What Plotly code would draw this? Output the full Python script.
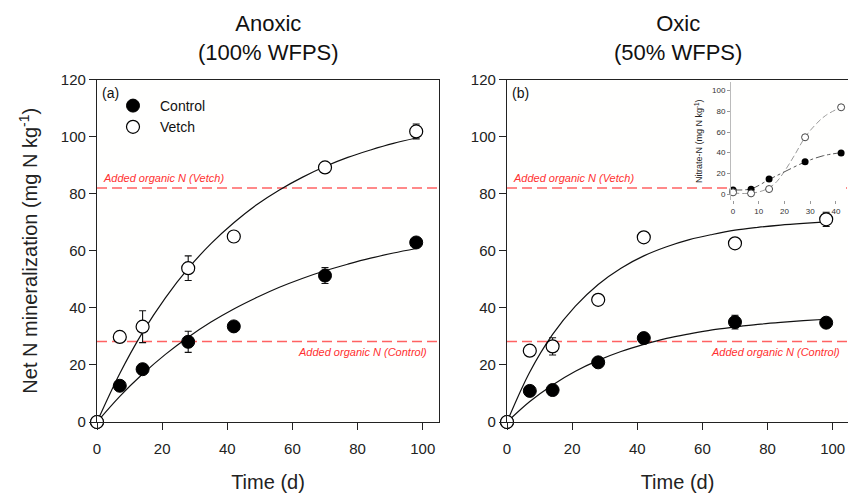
import plotly.graph_objects as go

# ---------------- data ----------------
days = [0, 7, 14, 28, 42, 70, 98]

# (a) Anoxic
anox_control = [0, 12.7, 18.5, 28.1, 33.5, 51.3, 62.9]
anox_control_err = [0, 1.0, 1.2, 3.7, 1.2, 2.8, 1.5]
anox_vetch = [0, 29.8, 33.4, 53.9, 65.0, 89.2, 101.8]
anox_vetch_err = [0, 1.0, 5.6, 4.3, 1.0, 1.2, 2.6]

# (b) Oxic
oxic_control = [0, 10.9, 11.2, 20.9, 29.4, 35.0, 34.8]
oxic_control_err = [0, 1.0, 1.0, 1.2, 1.2, 2.4, 1.5]
oxic_vetch = [0, 25.0, 26.5, 42.8, 64.7, 62.6, 71.0]
oxic_vetch_err = [0, 1.0, 3.0, 1.0, 1.0, 1.2, 2.5]

# fitted curves
curve_t = [0, 7, 14, 21, 28, 35, 42, 49, 56, 63, 70, 77, 84, 91, 98]
anox_control_fit = [0, 9.0, 16.8, 23.7, 29.7, 35.0, 39.6, 43.6, 47.2, 50.3, 53.0, 55.3, 57.4, 59.2, 60.8]
anox_vetch_fit = [0, 17.0, 31.4, 43.5, 53.8, 62.5, 69.8, 76.1, 81.3, 85.7, 89.5, 92.7, 95.3, 97.6, 99.5]
oxic_control_fit = [0, 7.2, 13.0, 17.8, 21.6, 24.7, 27.2, 29.3, 30.9, 32.3, 33.3, 34.2, 34.9, 35.5, 36.0]
oxic_vetch_fit = [0, 17.5, 30.7, 40.6, 48.2, 53.9, 58.2, 61.4, 63.9, 65.7, 67.2, 68.2, 69.0, 69.6, 70.1]

# added organic N reference levels
added_n_control = 28.2
added_n_vetch = 82.0

# inset: nitrate-N (oxic)
inset_days = [0, 7, 14, 28, 42]
nitrate_control = [3.9, 4.5, 14.5, 31.3, 39.7]
nitrate_vetch = [1.6, 0.6, 4.8, 54.9, 83.9]
inset_curve_t_control = [0, 7, 14, 20, 28, 35, 42]
nitrate_control_fit = [4.0, 5.0, 14.0, 21.5, 31.0, 37.0, 40.0]
inset_curve_t_vetch = [0, 5, 10, 14, 17, 20, 24, 28, 32, 36, 42]
nitrate_vetch_fit = [1.0, 0.5, 2.0, 6.0, 12.0, 22.0, 38.0, 55.0, 67.0, 76.0, 84.0]

x_ticks = [0, 20, 40, 60, 80, 100]
y_ticks = [0, 20, 40, 60, 80, 100, 120]
inset_x_ticks = [0, 10, 20, 30, 40]
inset_y_ticks = [0, 20, 40, 60, 80, 100]

# ---------------- figure ----------------
W, H = 848, 493
FONT = "Liberation Sans, Arial, sans-serif"
RED = "rgba(255,70,70,0.85)"

fig = go.Figure()

XR = [0, 105]
panels = [
    ("x", "y", anox_control, anox_control_err, anox_vetch, anox_vetch_err,
     anox_control_fit, anox_vetch_fit, True),
    ("x2", "y2", oxic_control, oxic_control_err, oxic_vetch, oxic_vetch_err,
     oxic_control_fit, oxic_vetch_fit, False),
]

for xa, ya, c, ce, v, ve, cf, vf, show in panels:
    for lvl in (added_n_vetch, added_n_control):
        fig.add_trace(go.Scatter(x=XR, y=[lvl, lvl], xaxis=xa, yaxis=ya, mode="lines",
                                 line=dict(color=RED, width=1.5, dash="10px,5px"),
                                 showlegend=False, hoverinfo="skip"))
    for fit in (cf, vf):
        fig.add_trace(go.Scatter(x=curve_t, y=fit, xaxis=xa, yaxis=ya, mode="lines",
                                 line=dict(color="#111", width=1.2, shape="spline"),
                                 showlegend=False, hoverinfo="skip"))
    fig.add_trace(go.Scatter(x=days, y=c, xaxis=xa, yaxis=ya, mode="markers", name="Control",
                             marker=dict(size=13, color="black", line=dict(color="black", width=1)),
                             error_y=dict(type="data", array=ce, color="#111", thickness=1.1, width=3.5),
                             cliponaxis=False, showlegend=show))
    fig.add_trace(go.Scatter(x=days, y=v, xaxis=xa, yaxis=ya, mode="markers", name="Vetch",
                             marker=dict(size=13, color="white", line=dict(color="black", width=1.2)),
                             error_y=dict(type="data", array=ve, color="#111", thickness=1.1, width=3.5),
                             cliponaxis=False, showlegend=show))

# inset
fig.add_trace(go.Scatter(x=inset_curve_t_vetch, y=nitrate_vetch_fit, xaxis="x3", yaxis="y3",
                         mode="lines", line=dict(color="#9a9a9a", width=1, dash="6px,3px", shape="spline"),
                         showlegend=False, hoverinfo="skip"))
fig.add_trace(go.Scatter(x=inset_curve_t_control, y=nitrate_control_fit, xaxis="x3", yaxis="y3",
                         mode="lines", line=dict(color="#555", width=1, dash="dashdot", shape="spline"),
                         showlegend=False, hoverinfo="skip"))
fig.add_trace(go.Scatter(x=inset_days, y=nitrate_control, xaxis="x3", yaxis="y3", mode="markers",
                         marker=dict(size=7, color="black"), cliponaxis=False, showlegend=False))
fig.add_trace(go.Scatter(x=inset_days, y=nitrate_vetch, xaxis="x3", yaxis="y3", mode="markers",
                         marker=dict(size=7, color="white", line=dict(color="#444", width=1)),
                         cliponaxis=False, showlegend=False))

ax_common = dict(showline=True, linecolor="#222", linewidth=1.3, mirror=True,
                 ticks="outside", ticklen=7, tickwidth=1.2, tickcolor="#222",
                 showgrid=False, zeroline=False, automargin=False,
                 tickfont=dict(family=FONT, size=15, color="#222"))

yb, yt = (H - 422) / H, (H - 79.5) / H

fig.update_layout(
    width=W, height=H,
    margin=dict(l=0, r=0, t=0, b=0, autoexpand=False),
    paper_bgcolor="white", plot_bgcolor="rgb(255,255,254)",
    font=dict(family=FONT, color="#222"),
    xaxis=dict(domain=[97 / W, 439 / W], range=XR, tickvals=x_ticks, anchor="y", ticklabelstandoff=6,
               title=dict(text="Time (d)", font=dict(size=20), standoff=20), **ax_common),
    yaxis=dict(domain=[yb, yt], range=[0, 120], tickvals=y_ticks, anchor="x",
               title=dict(text="Net N mineralization (mg N kg<sup>-1</sup>)", font=dict(size=20), standoff=17),
               **ax_common),
    xaxis2=dict(domain=[507 / W, 1.0], range=[0, 104.7], tickvals=x_ticks, anchor="y2", ticklabelstandoff=6,
                title=dict(text="Time (d)", font=dict(size=20), standoff=20), **ax_common),
    yaxis2=dict(domain=[yb, yt], range=[0, 120], tickvals=y_ticks, anchor="x2", **ax_common),
    xaxis3=dict(domain=[731 / W, 846 / W], range=[-0.8, 43.9], tickvals=inset_x_ticks, anchor="y3",
                showline=False, ticks="outside", ticklen=3, tickcolor="#999", showgrid=False, zeroline=False,
                automargin=False, tickfont=dict(family=FONT, size=8, color="#333")),
    yaxis3=dict(domain=[(H - 200.2) / H, (H - 82.4) / H], range=[-6, 108], tickvals=inset_y_ticks,
                anchor="x3", showline=True, linecolor="#bbb", linewidth=1, ticks="outside", ticklen=3,
                tickcolor="#999", showgrid=False, zeroline=False, automargin=False,
                tickfont=dict(family=FONT, size=8, color="#333"),
                title=dict(text="Nitrate-N (mg N kg<sup>-1</sup>)", font=dict(family=FONT, size=9, color="#222"),
                           standoff=7)),
    legend=dict(x=106 / W, y=1 - 90 / H, xanchor="left", yanchor="top", itemwidth=44,
                bgcolor="rgba(0,0,0,0)", font=dict(family=FONT, size=14, color="#111"),
                itemsizing="trace", tracegroupgap=0),
    showlegend=True,
)

annots = [
    dict(text="Anoxic<br>(100% WFPS)", x=268 / W, y=1 - 38 / H, xref="paper", yref="paper",
         showarrow=False, font=dict(size=22, color="#111"), xanchor="center", yanchor="middle"),
    dict(text="Oxic<br>(50% WFPS)", x=678 / W, y=1 - 38 / H, xref="paper", yref="paper",
         showarrow=False, font=dict(size=22, color="#111"), xanchor="center", yanchor="middle"),
    dict(text="(a)", x=100 / W, y=1 - 93 / H, xref="paper", yref="paper", showarrow=False,
         font=dict(size=14, color="#111"), xanchor="left", yanchor="middle"),
    dict(text="(b)", x=510 / W, y=1 - 93 / H, xref="paper", yref="paper", showarrow=False,
         font=dict(size=14, color="#111"), xanchor="left", yanchor="middle"),
]
for xr, yr, xl, xrgt in (("x", "y", 1.2, 102), ("x2", "y2", 1.2, 103)):
    annots.append(dict(text="<i>Added organic N (Vetch)</i>", x=xl, y=added_n_vetch, xref=xr, yref=yr,
                       showarrow=False, xanchor="left", yanchor="bottom", yshift=2,
                       font=dict(size=11, color="#ff3030")))
    annots.append(dict(text="<i>Added organic N (Control)</i>", x=xrgt, y=added_n_control, xref=xr, yref=yr,
                       showarrow=False, xanchor="right", yanchor="top", yshift=-2,
                       font=dict(size=11, color="#ff3030")))
fig.update_layout(annotations=annots)

fig.write_html("out.html", config={"displayModeBar": False},
               post_script="document.body.style.margin='0';document.body.style.overflow='hidden';")
